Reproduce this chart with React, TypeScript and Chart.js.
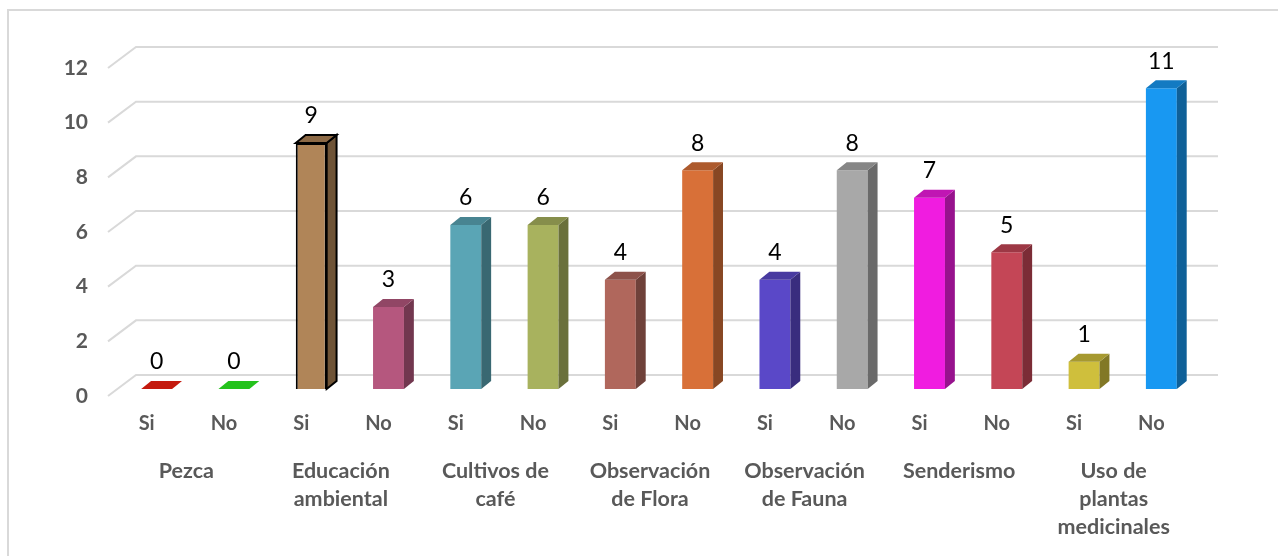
import React, { useEffect, useRef } from 'react';
import { Chart, registerables } from 'chart.js';

Chart.register(...registerables);

const answerLabels = ['Si', 'No', 'Si', 'No', 'Si', 'No', 'Si', 'No', 'Si', 'No', 'Si', 'No', 'Si', 'No'];
const groupLabels = [
  ['Pezca'],
  ['Educación', 'ambiental'],
  ['Cultivos de', 'café'],
  ['Observación', 'de Flora'],
  ['Observación', 'de Fauna'],
  ['Senderismo'],
  ['Uso de', 'plantas', 'medicinales'],
];
const values = [0, 0, 9, 3, 6, 6, 4, 8, 4, 8, 7, 5, 1, 11];
const barColors = [
  '#c41a0e', '#24c21c', '#b08558', '#b5577e', '#5aa5b5', '#a8b25e', '#b0675c',
  '#d87038', '#5a48c8', '#a8a8a8', '#f01ce0', '#c44656', '#cfbf3c', '#1898f2',
];
const outlined = [false, false, true, false, false, false, false, false, false, false, false, false, false, false];
const yMin = 0;
const yMax = 12;
const yStep = 2;

const FONT = 'Lato, "Open Sans", sans-serif';
const GRAY = '#595959';
const GRID = '#d9d9d9';

function shade(hex: string, f: number): string {
  const n = parseInt(hex.slice(1), 16);
  const r = Math.round(((n >> 16) & 255) * f);
  const g = Math.round(((n >> 8) & 255) * f);
  const b = Math.round((n & 255) * f);
  return `rgb(${r},${g},${b})`;
}

const threeD = {
  id: 'threeD',
  beforeDraw(chart: any) {
    const ctx = chart.ctx;
    ctx.save();
    ctx.strokeStyle = GRID;
    ctx.lineWidth = 2;
    ctx.beginPath();
    ctx.moveTo(8, chart.height);
    ctx.lineTo(8, 10);
    ctx.lineTo(chart.width, 10);
    ctx.stroke();
    ctx.restore();
  },
  beforeDatasetsDraw(chart: any) {
    const ctx = chart.ctx;
    const ys = chart.scales.y;
    const area = chart.chartArea;
    ctx.save();
    ctx.strokeStyle = GRID;
    ctx.lineWidth = 2;
    for (let v = yMin; v <= yMax; v += yStep) {
      const py = ys.getPixelForValue(v);
      ctx.beginPath();
      ctx.moveTo(area.left - 10, py + 7);
      ctx.lineTo(area.left + 18, py - 14);
      ctx.lineTo(area.right + 18, py - 14);
      ctx.stroke();
    }
    ctx.restore();
  },
  afterDatasetsDraw(chart: any) {
    const ctx = chart.ctx;
    const meta = chart.getDatasetMeta(0);
    ctx.save();
    meta.data.forEach((bar: any, i: number) => {
      const w = bar.width;
      const left = bar.x - w / 2;
      const right = bar.x + w / 2;
      const top = Math.min(bar.y, bar.base);
      const base = Math.max(bar.y, bar.base);
      const dx = w * 0.32;
      const dy = w * 0.26;
      const col = barColors[i];
      const isZero = values[i] === 0;
      if (!isZero) {
        ctx.beginPath();
        ctx.moveTo(right, top);
        ctx.lineTo(right + dx, top - dy);
        ctx.lineTo(right + dx, base - dy);
        ctx.lineTo(right, base);
        ctx.closePath();
        ctx.fillStyle = shade(col, 0.63);
        ctx.fill();
        if (outlined[i]) {
          ctx.strokeStyle = '#000';
          ctx.lineWidth = 2;
          ctx.stroke();
        }
      }
      ctx.beginPath();
      ctx.moveTo(left, top);
      ctx.lineTo(left + dx, top - dy);
      ctx.lineTo(right + dx, top - dy);
      ctx.lineTo(right, top);
      ctx.closePath();
      ctx.fillStyle = isZero ? col : shade(col, 0.8);
      ctx.fill();
      if (outlined[i]) {
        ctx.strokeStyle = '#000';
        ctx.lineWidth = 2;
        ctx.stroke();
      }
      ctx.fillStyle = '#000';
      ctx.font = `23px ${FONT}`;
      ctx.textAlign = 'center';
      ctx.textBaseline = 'middle';
      ctx.fillText(String(values[i]), bar.x, top - 27);
    });
    ctx.restore();
  },
};

export default function App() {
  const ref = useRef<HTMLCanvasElement | null>(null);
  useEffect(() => {
    if (!ref.current) return;
    const chart = new Chart(ref.current, {
      type: 'bar',
      data: {
        labels: answerLabels,
        datasets: [
          {
            data: values,
            backgroundColor: barColors,
            borderColor: '#000',
            borderWidth: outlined.map((o) => (o ? 2 : 0)),
            categoryPercentage: 1,
            barPercentage: 0.4,
          },
        ],
      },
      options: {
        responsive: false,
        animation: false,
        events: [],
        layout: { padding: { left: 0, right: 78, top: 61, bottom: 0 } },
        plugins: { legend: { display: false }, tooltip: { enabled: false }, title: { display: false } },
        scales: {
          y: {
            min: yMin,
            max: yMax,
            grid: { display: false, drawTicks: false, tickLength: 0 },
            border: { display: false },
            ticks: {
              stepSize: yStep,
              padding: 30,
              labelOffset: 7,
              color: GRAY,
              font: { family: FONT, size: 21, weight: 'bold' },
            },
            afterFit: (s: any) => {
              s.width = 118;
            },
          },
          x: {
            weight: 0,
            offset: true,
            grid: { display: false, drawTicks: false, tickLength: 0 },
            border: { display: false },
            ticks: {
              padding: 23,
              labelOffset: -10,
              maxRotation: 0,
              autoSkip: false,
              color: GRAY,
              font: { family: FONT, size: 20, weight: 'bold', lineHeight: 1.2 },
            },
            afterFit: (s: any) => {
              s.height = 50;
            },
          },
          x2: {
            type: 'category',
            position: 'bottom',
            weight: 1,
            offset: true,
            labels: groupLabels as any,
            grid: { display: false, drawTicks: false, tickLength: 0 },
            border: { display: false },
            ticks: {
              padding: 18,
              labelOffset: -9,
              maxRotation: 0,
              autoSkip: false,
              color: GRAY,
              font: { family: FONT, size: 21.5, weight: 'bold', lineHeight: 28 / 21.5 },
            },
            afterFit: (s: any) => {
              s.height = 117;
            },
          },
        },
      },
      plugins: [threeD],
    } as any);
    return () => chart.destroy();
  }, []);
  return (
    <div style={{ position: 'fixed', left: 0, top: 0, width: 1278, height: 556, background: '#fff' }}>
      <canvas ref={ref} width={1278} height={556} style={{ width: 1278, height: 556, display: 'block' }} />
    </div>
  );
}
